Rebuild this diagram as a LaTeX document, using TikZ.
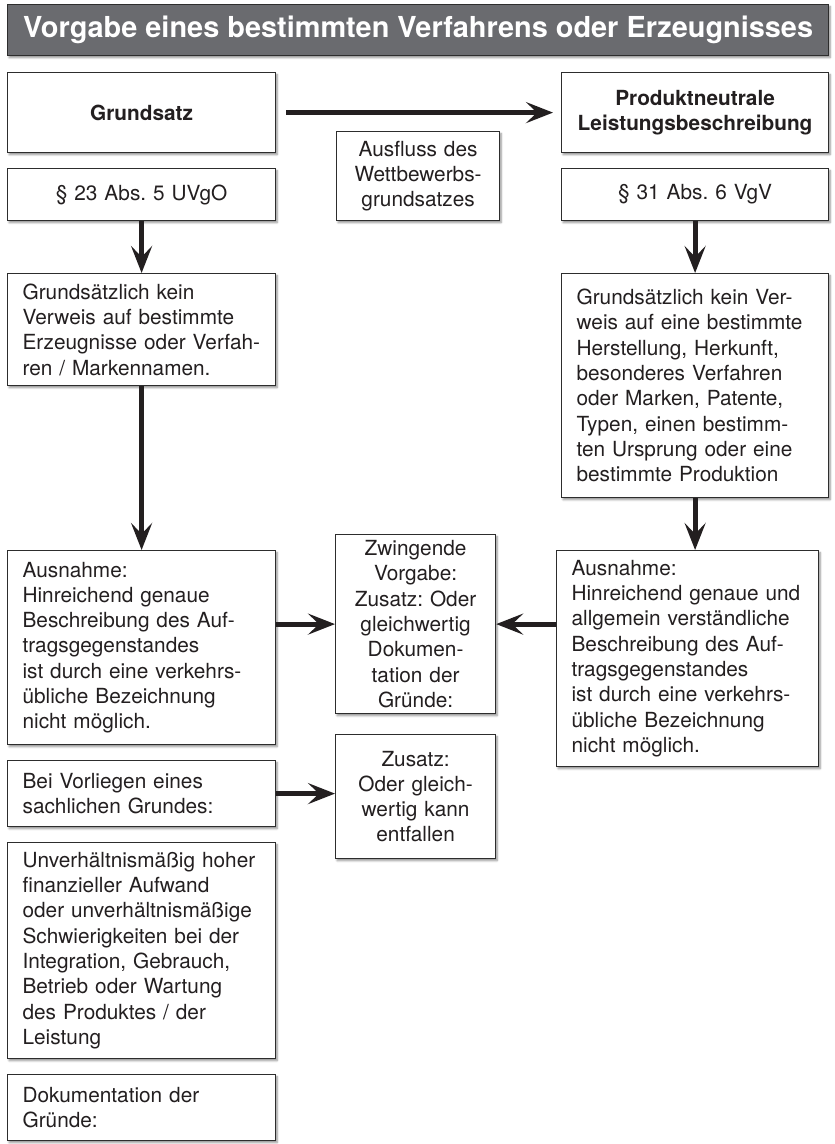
\documentclass[tikz,border=0pt]{standalone}
\usepackage{fontspec}
\setmainfont{TeX Gyre Heros}
\usetikzlibrary{arrows.meta,shadows.blur}
\definecolor{titelgrau}{RGB}{106,107,111}
\definecolor{rahmen}{RGB}{45,45,45}
\definecolor{schrift}{RGB}{35,31,32}
\newcommand{\kschrift}{\fontsize{20.8}{25.3}\selectfont\frenchspacing}

\begin{document}
\begin{tikzpicture}[x=1pt,y=-1pt,
kasten/.style={draw=rahmen, line width=1.2pt, fill=white, text=schrift, anchor=north west, inner xsep=15pt, inner ysep=2pt, font=\kschrift,
  blur shadow={shadow xshift=1.5pt, shadow yshift=-2pt, shadow blur radius=2pt, shadow blur steps=6, shadow opacity=45}},
links/.style={kasten, align=left},
mitte/.style={kasten, align=center},
pfeil/.style={draw=schrift, line width=5pt, -{Stealth[length=27pt,width=21pt,inset=11pt]}}]
\useasboundingbox (0,0) rectangle (835,1144);
\node [kasten, fill=titelgrau, draw=rahmen, text=white, inner xsep=0pt, minimum width=821pt, minimum height=51pt,
       font=\fontsize{28.9}{32}\selectfont\bfseries] (titel) at (7,4) {Vorgabe eines bestimmten Verfahrens oder Erzeugnisses};
% linke Spalte
\node [mitte, text width=238pt, minimum height=80pt] (grundsatz) at (7,72) {\textbf{Grundsatz}};
\node [mitte, text width=238pt, minimum height=52pt] (paraL) at (7,168) {§ 23 Abs. 5 UVgO};
\node [links, text width=238pt, minimum height=112pt] (grundL) at (7,273) {Grundsätzlich kein\\Verweis auf bestimmte\\Erzeugnisse oder Verfah-\\ren / Markennamen.};
\node [links, text width=238pt, minimum height=194pt] (ausnahmeL) at (7,550) {Ausnahme:\\Hinreichend genaue\\Beschreibung des Auf-\\tragsgegenstandes\\ist durch eine verkehrs-\\übliche Bezeichnung\\nicht möglich.};
\node [links, text width=238pt, minimum height=66pt] (bei) at (7,760) {Bei Vorliegen eines\\sachlichen Grundes:};
\node [links, text width=238pt, minimum height=216pt] (unverh) at (7,842) {Unverhältnismäßig hoher\\finanzieller Aufwand\\oder unverhältnismäßige\\Schwierigkeiten bei der\\Integration, Gebrauch,\\Betrieb oder Wartung\\des Produktes / der\\Leistung};
\node [links, text width=238pt, minimum height=66pt] (doku) at (7,1074) {Dokumentation der\\Gründe:};
% Mitte
\node [mitte, inner xsep=8pt, text width=147pt, minimum height=89pt] (ausfluss) at (336,131) {Ausfluss des\\Wettbewerbs-\\grundsatzes};
\node [mitte, inner xsep=8pt, text width=144pt, minimum height=179pt] (zwingend) at (335,534) {Zwingende\\Vorgabe:\\Zusatz: Oder\\gleichwertig\\Dokumen-\\tation der\\Gründe:};
\node [mitte, inner xsep=8pt, text width=144pt, minimum height=124pt] (zusatz) at (335,734) {Zusatz:\\Oder gleich-\\wertig kann\\entfallen};
% rechte Spalte
\node [mitte, text width=237pt, minimum height=80pt] (produkt) at (561,72) {\textbf{Produktneutrale}\\\textbf{Leistungsbeschreibung}};
\node [mitte, text width=237pt, minimum height=52pt] (paraR) at (561,168) {§ 31 Abs. 6 VgV};
\node [links, text width=237pt, minimum height=224pt] (grundR) at (561,273) {Grundsätzlich kein Ver-\\weis auf eine bestimmte\\Herstellung, Herkunft,\\besonderes Verfahren\\oder Marken, Patente,\\Typen, einen bestimm-\\ten Ursprung oder eine\\bestimmte Produktion};
\node [links, text width=232pt, minimum height=216pt] (ausnahmeR) at (556,550) {Ausnahme:\\Hinreichend genaue und\\allgemein verständliche\\Beschreibung des Auf-\\tragsgegenstandes\\ist durch eine verkehrs-\\übliche Bezeichnung\\nicht möglich.};
% Pfeile
\draw [pfeil, shorten <=10pt, shorten >=8pt] (grundsatz.east) -- (produkt.west);
\draw [pfeil] (paraL.south) -- (grundL.north);
\draw [pfeil] (grundL.south) -- (ausnahmeL.north);
\draw [pfeil] (paraR.south) -- (grundR.north);
\draw [pfeil] (grundR.south) -- (grundR.south |- ausnahmeR.north);
\draw [pfeil] (ausnahmeL.east |- zwingend.west) -- (zwingend.west);
\draw [pfeil] (ausnahmeR.west |- zwingend.east) -- (zwingend.east);
\draw [pfeil] (bei.east) -- (bei.east -| zusatz.west);
\end{tikzpicture}
\end{document}
